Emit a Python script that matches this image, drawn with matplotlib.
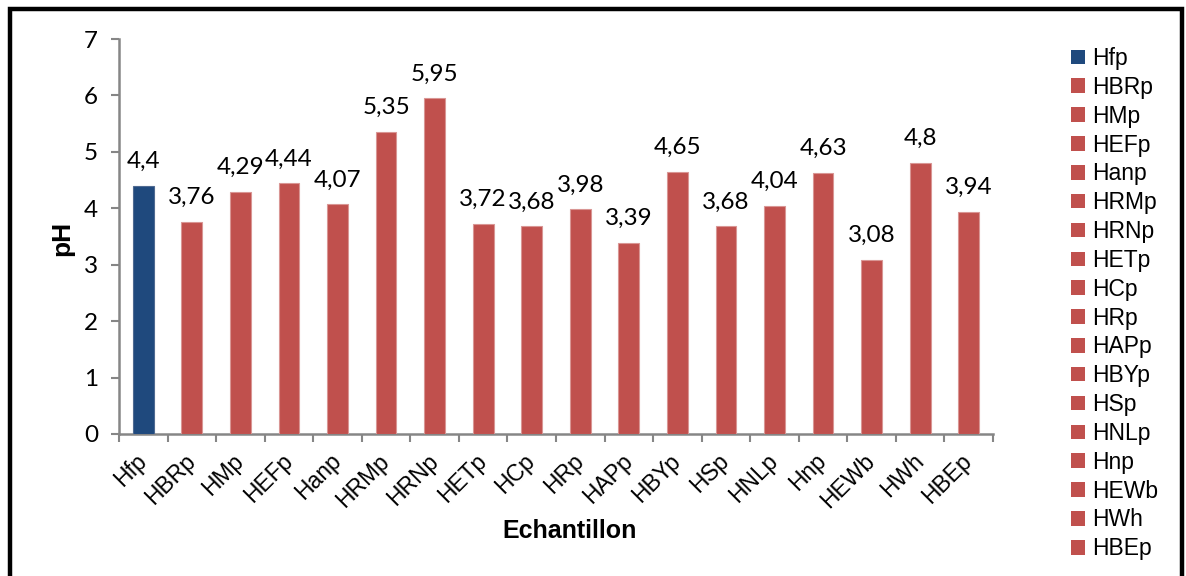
import matplotlib
matplotlib.use("Agg")
import matplotlib.pyplot as plt
import matplotlib.transforms as mtransforms
from matplotlib.patches import Rectangle, Patch
from matplotlib.ticker import FixedLocator, NullFormatter

# pH of each sample
samples = ["Hfp", "HBRp", "HMp", "HEFp", "Hanp", "HRMp", "HRNp", "HETp", "HCp",
           "HRp", "HAPp", "HBYp", "HSp", "HNLp", "Hnp", "HEWb", "HWh", "HBEp"]
ph_values = [4.4, 3.76, 4.29, 4.44, 4.07, 5.35, 5.95, 3.72, 3.68,
             3.98, 3.39, 4.65, 3.68, 4.04, 4.63, 3.08, 4.8, 3.94]
value_labels = ["4,4", "3,76", "4,29", "4,44", "4,07", "5,35", "5,95", "3,72", "3,68",
                "3,98", "3,39", "4,65", "3,68", "4,04", "4,63", "3,08", "4,8", "3,94"]
y_ticks = [0, 1, 2, 3, 4, 5, 6, 7]

BLUE = "#1F497D"
RED = "#C0504D"
AXIS_GREY = "#868686"
colors = [BLUE] + [RED] * (len(samples) - 1)
edge_colors = ["#4F6A91"] + ["#D99694"] * (len(samples) - 1)

W, H = 1186, 576
fig = plt.figure(figsize=(W / 100, H / 100), dpi=100)
ax = fig.add_axes([119 / W, 1 - 434 / H, (993 - 119) / W, (434 - 39) / H])

x = list(range(len(samples)))
ax.bar(x, ph_values, width=0.43, color=colors, edgecolor=edge_colors,
       linewidth=0.8, zorder=3)

for xi, v, lab in zip(x, ph_values, value_labels):
    ax.annotate(lab, (xi, v), xytext=(0, 10), textcoords="offset points",
                ha="center", va="bottom", fontsize=17.5, family="Lato", color="black")

ax.set_xlim(-0.5, len(samples) - 0.5)
ax.set_ylim(0, 7)
ax.set_yticks(y_ticks)
ax.set_yticklabels([str(t) for t in y_ticks], family="Lato", fontsize=17.5)

ax.set_xticks(x)
ax.set_xticklabels(samples, rotation=45, ha="right", va="center",
                   rotation_mode="anchor", family="Liberation Sans", fontsize=16.5)
shift = mtransforms.ScaledTranslation(7 / 100, 0, fig.dpi_scale_trans)
for lab in ax.get_xticklabels():
    lab.set_transform(lab.get_transform() + shift)
ax.xaxis.set_minor_locator(FixedLocator([i - 0.5 for i in range(len(samples) + 1)]))
ax.xaxis.set_minor_formatter(NullFormatter())
ax.tick_params(axis="x", which="major", length=0, pad=17)
ax.tick_params(axis="x", which="minor", length=6, width=1.5, color=AXIS_GREY)
ax.tick_params(axis="y", length=6, width=1.5, color=AXIS_GREY, pad=9)

for side in ("top", "right"):
    ax.spines[side].set_visible(False)
for side in ("left", "bottom"):
    ax.spines[side].set_color(AXIS_GREY)
    ax.spines[side].set_linewidth(1.8)

fig.text(62 / W, 1 - 238 / H, "pH", rotation=90, ha="center", va="center",
         fontsize=19, fontweight="bold", family="Liberation Sans")
fig.text(570 / W, 1 - 531 / H, "Echantillon", ha="center", va="center",
         fontsize=18, fontweight="bold", family="Liberation Sans")

handles = [Patch(facecolor=c, edgecolor="none") for c in colors]
fig.legend(handles, samples, loc="upper left", bbox_to_anchor=(1071 / W, 1 - 47 / H),
           frameon=False, prop={"family": "Liberation Sans", "size": 16.5},
           handlelength=0.6, handleheight=0.6, handletextpad=0.3,
           labelspacing=0.255, borderpad=0, borderaxespad=0)

# outer black frame
fig.add_artist(Rectangle((10 / W, -0.05), (1182 - 10) / W, 1.05 - 9 / H,
                         transform=fig.transFigure, fill=False,
                         edgecolor="black", linewidth=3.2, clip_on=False))

fig.savefig("out.png", dpi=100)
